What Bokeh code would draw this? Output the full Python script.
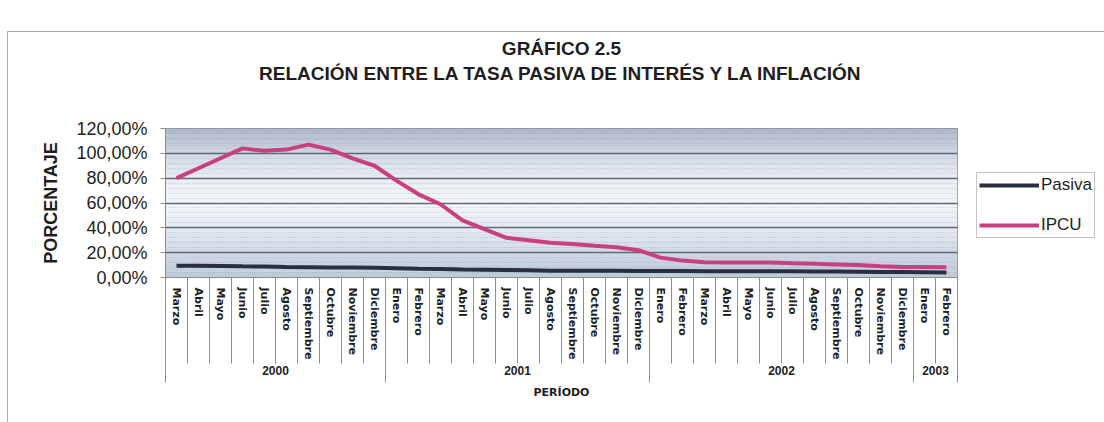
import numpy as np
from bokeh.plotting import figure
from bokeh.models import (LinearAxis, FixedTicker, Range1d, Legend, LegendItem, Title,
                          BoxAnnotation, CustomJSTickFormatter)
from bokeh.embed import file_html
from bokeh.resources import INLINE

# ---------------- data ----------------
months = ["Marzo", "Abril", "Mayo", "Junio", "Julio", "Agosto", "Septiembre", "Octubre",
          "Noviembre", "Diciembre",
          "Enero", "Febrero", "Marzo", "Abril", "Mayo", "Junio", "Julio", "Agosto",
          "Septiembre", "Octubre", "Noviembre", "Diciembre",
          "Enero", "Febrero", "Marzo", "Abril", "Mayo", "Junio", "Julio", "Agosto",
          "Septiembre", "Octubre", "Noviembre", "Diciembre",
          "Enero", "Febrero"]
years = ["2000", "2001", "2002", "2003"]
months_per_year = [10, 12, 12, 2]

ipcu = [80, 88, 96, 104, 102, 103, 107, 103, 96, 90,
        78, 67, 59, 46, 39, 32, 30, 28, 27, 25.5, 24.3, 22,
        16, 13.6, 12.3, 12, 12, 12, 11.5, 11, 10.5, 10, 9, 8.5,
        8.5, 8.2]
pasiva = [9.5, 9.5, 9.3, 9.0, 8.8, 8.5, 8.3, 8.0, 8.0, 7.8,
          7.5, 7.0, 6.8, 6.5, 6.3, 6.0, 5.8, 5.5, 5.5, 5.5, 5.5, 5.3,
          5.3, 5.2, 5.0, 5.0, 5.0, 5.0, 5.0, 4.8, 4.8, 4.7, 4.5, 4.5,
          4.3, 4.0]

y_ticks = [0, 20, 40, 60, 80, 100, 120]
y_tick_labels = ["0,00%", "20,00%", "40,00%", "60,00%", "80,00%", "100,00%", "120,00%"]

# ---------------- figure ----------------
n = len(months)
x = np.arange(n) + 0.5
bounds = np.concatenate([[0], np.cumsum(months_per_year)])
year_centers = (bounds[:-1] + bounds[1:]) / 2.0

FONT = "Liberation Sans"
TXT = "#1e1e1e"
AXC = "#8c8c8c"

p = figure(frame_width=792, frame_height=149,
           min_border_left=157, min_border_right=147,
           min_border_top=96, min_border_bottom=145,
           x_range=Range1d(0, n), y_range=Range1d(0, 120),
           output_backend="svg", toolbar_location=None,
           x_axis_location=None, title=None)
p.margin = (31, 0, 0, 7)
p.styles = {"border-top": "1px solid #a8a8a8", "border-left": "1px solid #a8a8a8"}
p.background_fill_color = "#e9edf3"
p.border_fill_color = "white"
p.outline_line_color = "#8c8c8c"

# gradient-like background bands
stops = [(0, (190, 201, 217)), (20, (208, 216, 229)), (40, (228, 234, 241)),
         (60, (243, 245, 249)), (80, (233, 237, 243)), (100, (207, 215, 227)),
         (120, (172, 183, 202))]
for k in range(24):
    lo, hi = k * 5, k * 5 + 5
    mid = (lo + hi) / 2
    for (a, ca), (b, cb) in zip(stops[:-1], stops[1:]):
        if a <= mid <= b:
            t = (mid - a) / (b - a)
            c = tuple(int(round(ca[i] + (cb[i] - ca[i]) * t)) for i in range(3))
            break
    p.add_layout(BoxAnnotation(bottom=lo, top=hi, fill_color="#%02x%02x%02x" % c,
                               fill_alpha=1.0, line_color=None, level="image"))

# y axis
p.yaxis.ticker = FixedTicker(ticks=y_ticks, minor_ticks=list(range(0, 121, 4)))
p.yaxis.formatter = CustomJSTickFormatter(args=dict(yvals=y_ticks, ylabels=y_tick_labels),
                                          code="const i = yvals.indexOf(tick); return i >= 0 ? ylabels[i] : '';")
p.yaxis.axis_label = "PORCENTAJE"
p.yaxis.axis_label_text_font = FONT
p.yaxis.axis_label_text_font_style = "bold"
p.yaxis.axis_label_text_font_size = "18px"
p.yaxis.axis_label_text_color = TXT
p.yaxis.axis_label_standoff = 12
p.yaxis.major_label_text_font = FONT
p.yaxis.major_label_text_font_size = "18px"
p.yaxis.major_label_text_color = TXT
p.yaxis.major_label_standoff = 13
p.yaxis.major_tick_out = 5
p.yaxis.major_tick_in = 0
p.yaxis.major_tick_line_color = AXC
p.yaxis.minor_tick_line_color = None
p.yaxis.axis_line_color = AXC

p.ygrid.grid_line_color = "#5f6879"
p.ygrid.grid_line_width = 1.6
p.ygrid.minor_grid_line_color = "#8894a8"
p.ygrid.minor_grid_line_alpha = 0.45
p.ygrid.minor_grid_line_dash = "1 2"
p.xgrid.grid_line_color = None

# x axis: months (long minor ticks act as separators)
ax1 = LinearAxis(ticker=FixedTicker(ticks=list(x), minor_ticks=list(range(n + 1))),
                 formatter=CustomJSTickFormatter(args=dict(mnames=months),
                                                 code="return mnames[Math.floor(tick)];"))
ax1.major_label_orientation = "vertical"
ax1.major_tick_line_color = None
ax1.major_tick_out = 0
ax1.major_tick_in = 0
ax1.minor_tick_out = 86
ax1.minor_tick_in = 0
ax1.minor_tick_line_color = AXC
ax1.axis_line_color = AXC
ax1.major_label_standoff = -76
ax1.major_label_text_font = "DejaVu Sans"
ax1.major_label_text_font_style = "bold"
ax1.major_label_text_font_size = "11px"
ax1.major_label_text_color = TXT
p.add_layout(ax1, "below")

# x axis: years
ax2 = LinearAxis(ticker=FixedTicker(ticks=list(year_centers), minor_ticks=list(bounds)),
                 formatter=CustomJSTickFormatter(args=dict(ynames=years, ycenters=list(year_centers)),
                                                 code="const i = ycenters.indexOf(tick); return i >= 0 ? ynames[i] : '';"))
ax2.axis_line_color = None
ax2.major_tick_line_color = None
ax2.major_tick_out = 0
ax2.major_tick_in = 0
ax2.minor_tick_out = 20
ax2.minor_tick_in = 0
ax2.minor_tick_line_color = AXC
ax2.major_label_standoff = -17
ax2.major_label_text_font = FONT
ax2.major_label_text_font_style = "bold"
ax2.major_label_text_font_size = "12px"
ax2.major_label_text_color = TXT
ax2.axis_label = "PERÍODO"
ax2.axis_label_standoff = 8
ax2.axis_label_text_font = "DejaVu Sans"
ax2.axis_label_text_font_style = "bold"
ax2.axis_label_text_font_size = "11px"
ax2.axis_label_text_color = TXT
p.add_layout(ax2, "below")

# lines
r1 = p.line(x, pasiva, line_color="#2a2e40", line_width=4)
r2 = p.line(x, ipcu, line_color="#c8407f", line_width=4)

legend = Legend(items=[LegendItem(label="Pasiva", renderers=[r1]),
                       LegendItem(label="IPCU", renderers=[r2])],
                location=(19, 39), orientation="vertical")
legend.border_line_color = "#8a8a8a"
legend.border_line_width = 1
legend.background_fill_color = "white"
legend.background_fill_alpha = 1.0
legend.padding = 2
legend.margin = 0
legend.glyph_width = 60
legend.glyph_height = 16
legend.label_height = 16
legend.spacing = 20
legend.label_standoff = 2
legend.label_text_font = FONT
legend.label_text_font_size = "17px"
legend.label_text_color = TXT
p.add_layout(legend, "right")

# titles (a blank spacer title keeps the headings away from the frame)
spacer = Title(text=" ", text_font_size="1px", standoff=40)
t2 = Title(text="RELACIÓN ENTRE LA TASA PASIVA DE INTERÉS Y LA INFLACIÓN", align="center",
           text_font=FONT, text_font_size="19px", text_font_style="bold", text_color=TXT,
           standoff=4)
t1 = Title(text="GRÁFICO 2.5", align="center",
           text_font=FONT, text_font_size="19px", text_font_style="bold", text_color=TXT,
           standoff=0)
p.add_layout(spacer, "above")
p.add_layout(t2, "above")
p.add_layout(t1, "above")

open("out.html", "w").write(file_html(p, INLINE))
